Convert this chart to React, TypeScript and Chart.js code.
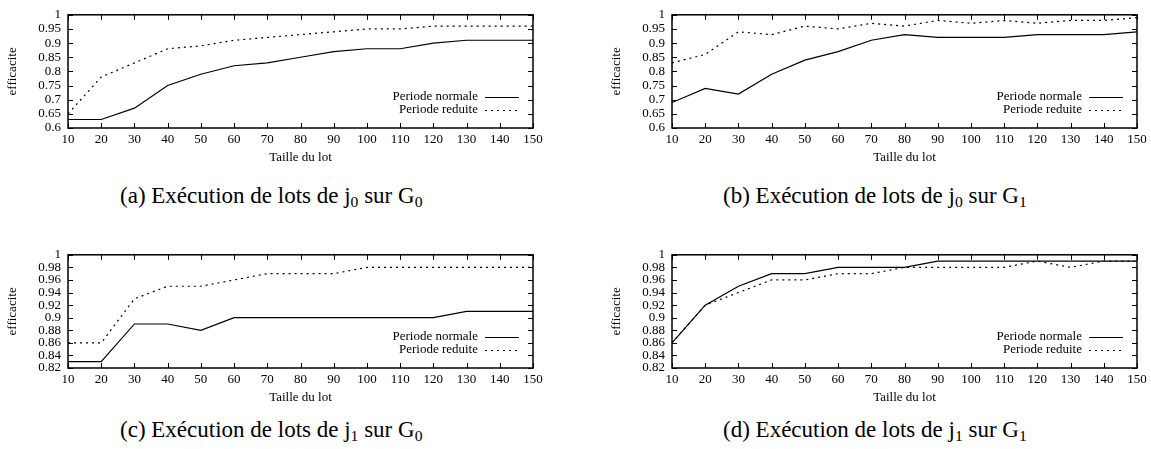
import React, { useEffect, useRef } from "react";
import { Chart, registerables } from "chart.js";

Chart.register(...registerables);

// ---------- data ----------
const lotSizes = [10, 20, 30, 40, 50, 60, 70, 80, 90, 100, 110, 120, 130, 140, 150];

const aNormal = [0.63, 0.63, 0.67, 0.75, 0.79, 0.82, 0.83, 0.85, 0.87, 0.88, 0.88, 0.9, 0.91, 0.91, 0.91];
const aReduced = [0.65, 0.78, 0.83, 0.88, 0.89, 0.91, 0.92, 0.93, 0.94, 0.95, 0.95, 0.96, 0.96, 0.96, 0.96];

const bNormal = [0.69, 0.74, 0.72, 0.79, 0.84, 0.87, 0.91, 0.93, 0.92, 0.92, 0.92, 0.93, 0.93, 0.93, 0.94];
const bReduced = [0.83, 0.86, 0.94, 0.93, 0.96, 0.95, 0.97, 0.96, 0.98, 0.97, 0.98, 0.97, 0.98, 0.98, 0.99];

const cNormal = [0.83, 0.83, 0.89, 0.89, 0.88, 0.9, 0.9, 0.9, 0.9, 0.9, 0.9, 0.9, 0.91, 0.91, 0.91];
const cReduced = [0.86, 0.86, 0.93, 0.95, 0.95, 0.96, 0.97, 0.97, 0.97, 0.98, 0.98, 0.98, 0.98, 0.98, 0.98];

const dNormal = [0.86, 0.92, 0.95, 0.97, 0.97, 0.98, 0.98, 0.98, 0.99, 0.99, 0.99, 0.99, 0.99, 0.99, 0.99];
const dReduced = [0.86, 0.92, 0.94, 0.96, 0.96, 0.97, 0.97, 0.98, 0.98, 0.98, 0.98, 0.99, 0.98, 0.99, 0.99];

const xTickValues = [10, 20, 30, 40, 50, 60, 70, 80, 90, 100, 110, 120, 130, 140, 150];
const yTicksTop = [0.6, 0.65, 0.7, 0.75, 0.8, 0.85, 0.9, 0.95, 1];
const yTicksBottom = [0.82, 0.84, 0.86, 0.88, 0.9, 0.92, 0.94, 0.96, 0.98, 1];

const seriesLabels = ["Periode normale", "Periode reduite"];
const xTitle = "Taille du lot";
const yTitle = "efficacite";

// ---------- styling ----------
const FONT = "'Liberation Serif', 'Times New Roman', serif";
const DOTTED = [2, 4];

const gnuFrame = {
  id: "gnuFrame",
  afterDatasetsDraw(chart: any) {
    const { ctx, chartArea } = chart;
    const { left, right, top, bottom } = chartArea;
    const xs = chart.scales.x;
    const ys = chart.scales.y;
    ctx.save();
    ctx.strokeStyle = "#000";
    ctx.setLineDash([]);
    // ticks (inward, mirrored)
    ctx.lineWidth = 1;
    ctx.beginPath();
    const tl = 5;
    xs.ticks.forEach((t: any) => {
      const px = Math.round(xs.getPixelForValue(t.value)) + 0.5;
      ctx.moveTo(px, bottom);
      ctx.lineTo(px, bottom - tl);
      ctx.moveTo(px, top);
      ctx.lineTo(px, top + tl);
    });
    ys.ticks.forEach((t: any) => {
      const py = Math.round(ys.getPixelForValue(t.value)) + 0.5;
      ctx.moveTo(left, py);
      ctx.lineTo(left + tl, py);
      ctx.moveTo(right, py);
      ctx.lineTo(right - tl, py);
    });
    ctx.stroke();
    // frame
    ctx.lineWidth = 1.5;
    ctx.strokeRect(left, top, right - left, bottom - top);
    // legend (gnuplot style: text then sample)
    ctx.font = `13px ${FONT}`;
    ctx.fillStyle = "#000";
    ctx.textAlign = "right";
    ctx.textBaseline = "middle";
    chart.data.datasets.forEach((ds: any, i: number) => {
      const y = top + 82 + 13 * i;
      ctx.fillText(ds.label, right - 55, y);
      ctx.lineWidth = ds.borderWidth;
      ctx.setLineDash(ds.borderDash || []);
      ctx.beginPath();
      ctx.moveTo(right - 48, Math.round(y) + 0.5);
      ctx.lineTo(right - 14, Math.round(y) + 0.5);
      ctx.stroke();
    });
    ctx.restore();
  },
};

function makeConfig(normal: number[], reduced: number[], yTicks: number[], rightPad: number) {
  const tickFont = { family: FONT, size: 13 };
  return {
    type: "line",
    data: {
      datasets: [
        {
          label: seriesLabels[0],
          data: lotSizes.map((x, i) => ({ x, y: normal[i] })),
          borderColor: "#000",
          borderWidth: 1.2,
          pointRadius: 0,
          fill: false,
          tension: 0,
        },
        {
          label: seriesLabels[1],
          data: lotSizes.map((x, i) => ({ x, y: reduced[i] })),
          borderColor: "#000",
          borderWidth: 1.2,
          borderDash: DOTTED,
          pointRadius: 0,
          fill: false,
          tension: 0,
        },
      ],
    },
    options: {
      animation: false,
      responsive: false,
      events: [],
      layout: { padding: { top: 11, right: rightPad, left: 0, bottom: 0 } },
      plugins: { legend: { display: false }, tooltip: { enabled: false } },
      scales: {
        x: {
          type: "linear",
          min: lotSizes[0],
          max: lotSizes[lotSizes.length - 1],
          afterBuildTicks: (s: any) => {
            s.ticks = xTickValues.map((v) => ({ value: v }));
          },
          afterFit: (s: any) => {
            s.height = 42;
          },
          grid: { display: false, drawTicks: false },
          border: { display: false },
          ticks: {
            color: "#000",
            font: tickFont,
            padding: 4,
            maxRotation: 0,
            autoSkip: false,
            callback: (v: any) => String(v),
          },
          title: {
            display: true,
            text: xTitle,
            color: "#000",
            font: tickFont,
            padding: { top: 0, bottom: 5 },
          },
        },
        y: {
          type: "linear",
          min: yTicks[0],
          max: yTicks[yTicks.length - 1],
          afterBuildTicks: (s: any) => {
            s.ticks = yTicks.map((v) => ({ value: v }));
          },
          afterFit: (s: any) => {
            s.width = 68;
          },
          grid: { display: false, drawTicks: false },
          border: { display: false },
          ticks: {
            color: "#000",
            font: tickFont,
            padding: 7,
            autoSkip: false,
            callback: (v: any) => String(Number(Number(v).toFixed(2))),
          },
          title: {
            display: true,
            text: yTitle,
            color: "#000",
            font: tickFont,
            padding: { top: 5, bottom: 0 },
          },
        },
      },
    },
    plugins: [gnuFrame],
  };
}

type PanelProps = {
  left: number;
  top: number;
  width: number;
  rightPad: number;
  normal: number[];
  reduced: number[];
  yTicks: number[];
};

function Panel({ left, top, width, rightPad, normal, reduced, yTicks }: PanelProps) {
  const ref = useRef<HTMLCanvasElement>(null);
  useEffect(() => {
    const chart = new Chart(ref.current as HTMLCanvasElement, makeConfig(normal, reduced, yTicks, rightPad) as any);
    return () => chart.destroy();
  }, []);
  return (
    <canvas
      ref={ref}
      width={width}
      height={170}
      style={{ position: "absolute", left, top, width, height: 170, display: "block" }}
    />
  );
}

function Caption({ left, top, letter, j, g }: { left: number; top: number; letter: string; j: string; g: string }) {
  const sub: React.CSSProperties = { fontSize: "68%", verticalAlign: "-0.28em", lineHeight: 0 };
  return (
    <div
      style={{
        position: "absolute",
        left,
        top,
        fontFamily: FONT,
        fontSize: 23,
        lineHeight: "24px",
        color: "#000",
        whiteSpace: "nowrap",
      }}
    >
      ({letter}) Exécution de lots de j<span style={sub}>{j}</span> sur G<span style={sub}>{g}</span>
    </div>
  );
}

export default function App() {
  return (
    <div
      style={{
        position: "fixed",
        left: 0,
        top: 0,
        width: 1151,
        height: 449,
        background: "#fff",
        overflow: "hidden",
      }}
    >
      <Panel left={0} top={0} width={560} rightPad={27} normal={aNormal} reduced={aReduced} yTicks={yTicksTop} />
      <Panel left={604} top={0} width={547} rightPad={14} normal={bNormal} reduced={bReduced} yTicks={yTicksTop} />
      <Panel left={0} top={240} width={560} rightPad={27} normal={cNormal} reduced={cReduced} yTicks={yTicksBottom} />
      <Panel left={604} top={240} width={547} rightPad={14} normal={dNormal} reduced={dReduced} yTicks={yTicksBottom} />
      <Caption left={120} top={184} letter="a" j="0" g="0" />
      <Caption left={723} top={184} letter="b" j="0" g="1" />
      <Caption left={120} top={418} letter="c" j="1" g="0" />
      <Caption left={723} top={418} letter="d" j="1" g="1" />
    </div>
  );
}
